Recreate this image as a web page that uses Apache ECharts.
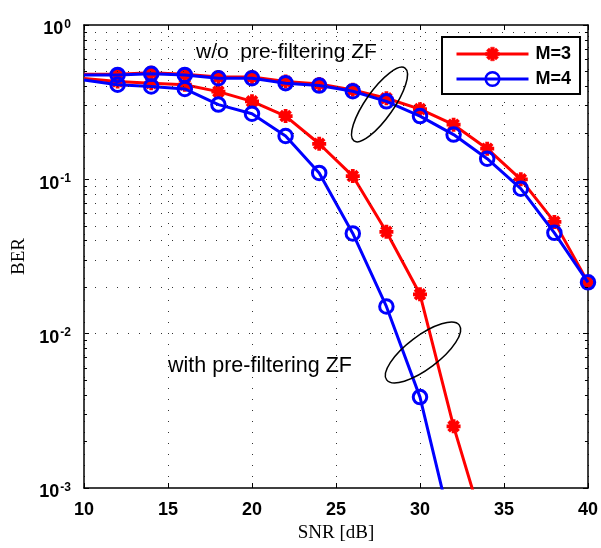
<!DOCTYPE html>
<html>
<head>
<meta charset="utf-8">
<script src="https://cdn.jsdelivr.net/npm/echarts@6/dist/echarts.min.js"></script>
<style>
  html, body { margin: 0; padding: 0; background: #ffffff; }
  #chart { width: 601px; height: 548px; }
</style>
</head>
<body>
<div id="chart"></div>
<script>
// SNR grid (dB)
const snr = [10, 12, 14, 16, 18, 20, 22, 24, 26, 28, 30, 32, 34, 36, 38, 40];

// BER without pre-filtering ZF
const berM3NoPre = [0.48, 0.48, 0.49, 0.48, 0.46, 0.46, 0.43, 0.415, 0.38, 0.335, 0.285, 0.226, 0.158, 0.100, 0.053, 0.0215];
const berM4NoPre = [0.475, 0.475, 0.483, 0.475, 0.452, 0.452, 0.42, 0.405, 0.372, 0.32, 0.257, 0.195, 0.136, 0.087, 0.045, 0.0215];

// BER with pre-filtering ZF (last point falls below the plotted range)
const berM3Pre = [0.45, 0.43, 0.42, 0.41, 0.37, 0.32, 0.257, 0.170, 0.105, 0.0457, 0.0180, 0.00251, 0.00047];
const berM4Pre = [0.44, 0.41, 0.40, 0.385, 0.305, 0.266, 0.191, 0.110, 0.0446, 0.0150, 0.00388, 0.00048];

// Axis ranges and grid
const xMin = 10, xMax = 40, xStep = 5;
const yMin = 0.001, yMax = 1;
const decades = [0.001, 0.01, 0.1];
const minorMultipliers = [2, 3, 4, 5, 6, 7, 8, 9];

const seriesNames = ['M=3', 'M=4'];
const annotationTop = 'w/o  pre-filtering ZF';
const annotationBottom = 'with pre-filtering ZF';

const RED = '#ff0000';
const BLUE = '#0000ff';
const DOT = [1, 10];
const GRID_COLOR = '#333';

// Asterisk marker: four bars of equal winding so overlaps stay filled
const STAR = 'path://M-10,-2.7L10,-2.7L10,2.7L-10,2.7Z' +
  'M-2.7,-10L2.7,-10L2.7,10L-2.7,10Z' +
  'M-5.16,-8.98L8.98,5.16L5.16,8.98L-8.98,-5.16Z' +
  'M-8.98,5.16L5.16,-8.98L8.98,-5.16L-5.16,8.98Z';

function toPairs(values) {
  // the first sample (SNR 10 dB) is drawn as a plain line start, no marker
  return values.map((v, i) => i === 0 ? { value: [snr[i], v], symbol: 'none' } : [snr[i], v]);
}

const minorValues = [];
decades.forEach(d => minorMultipliers.forEach(m => minorValues.push(+(d * m).toPrecision(3))));

const gridLines = minorValues.concat(decades.slice(1)).map(v => ({ yAxis: v }));
const tickLen = 0.18; // dB
const minorTicks = [];
minorValues.forEach(v => {
  minorTicks.push([{ coord: [xMin, v] }, { coord: [xMin + tickLen, v] }]);
  minorTicks.push([{ coord: [xMax - tickLen, v] }, { coord: [xMax, v] }]);
});

function supLabel(value) {
  const e = Math.round(Math.log10(value));
  return '{b|10}{s|' + e + '}';
}

const labelFont = 'Liberation Sans';

function redSeries(values, id) {
  return {
    id: id, name: seriesNames[0], type: 'line', data: toPairs(values),
    symbol: STAR, symbolSize: 14,
    lineStyle: { color: RED, width: 3 },
    itemStyle: { color: RED },
    clip: true, z: 3
  };
}
function blueSeries(values, id) {
  return {
    id: id, name: seriesNames[1], type: 'line', data: toPairs(values),
    symbol: 'circle', symbolSize: 13.5,
    lineStyle: { color: BLUE, width: 3 },
    itemStyle: { color: 'rgba(0,0,0,0)', borderColor: BLUE, borderWidth: 3 },
    clip: true, z: 4
  };
}

const chart = echarts.init(document.getElementById('chart'), null, { renderer: 'canvas' });

const option = {
  backgroundColor: '#ffffff',
  animation: false,
  grid: { left: 84, right: 11.5, top: 25, bottom: 57.3, containLabel: false },
  xAxis: [
    {
      type: 'value', min: xMin, max: xMax, interval: xStep, position: 'bottom',
      name: 'SNR [dB]', nameLocation: 'middle', nameGap: 36,
      nameTextStyle: { fontFamily: 'Liberation Serif', fontSize: 19, color: '#000' },
      axisLine: { show: true, onZero: false, lineStyle: { color: '#000', width: 1.5 } },
      axisTick: { show: true, inside: true, length: 5, lineStyle: { color: '#000', width: 1 } },
      axisLabel: { margin: 13, fontFamily: labelFont, fontWeight: 'bold', fontSize: 18, color: '#000' },
      splitLine: { show: true, lineStyle: { color: GRID_COLOR, width: 1, type: DOT } }
    },
    {
      type: 'value', min: xMin, max: xMax, interval: xStep, position: 'top',
      axisLine: { show: true, onZero: false, lineStyle: { color: '#000', width: 1.5 } },
      axisTick: { show: true, inside: true, length: 5, lineStyle: { color: '#000', width: 1 } },
      axisLabel: { show: false }, splitLine: { show: false }
    }
  ],
  yAxis: [
    {
      type: 'log', logBase: 10, min: yMin, max: yMax, position: 'left',
      name: 'BER', nameLocation: 'middle', nameGap: 55, nameRotate: 90,
      nameTextStyle: { fontFamily: 'Liberation Serif', fontSize: 19, color: '#000' },
      axisLine: { show: true, onZero: false, lineStyle: { color: '#000', width: 1.5 } },
      axisTick: { show: true, inside: true, length: 5, lineStyle: { color: '#000', width: 1 } },
      axisLabel: {
        margin: 13, formatter: supLabel, padding: [9, 0, 0, 0],
        rich: {
          b: { fontFamily: labelFont, fontWeight: 'bold', fontSize: 18, color: '#000' },
          s: { fontFamily: labelFont, fontWeight: 'bold', fontSize: 12, color: '#000', padding: [0, 0, 10, 1] }
        }
      },
      splitLine: { show: false }
    },
    {
      type: 'log', logBase: 10, min: yMin, max: yMax, position: 'right',
      axisLine: { show: true, onZero: false, lineStyle: { color: '#000', width: 1.5 } },
      axisTick: { show: true, inside: true, length: 5, lineStyle: { color: '#000', width: 1 } },
      axisLabel: { show: false }, splitLine: { show: false }
    }
  ],
  legend: {
    data: [
      { name: seriesNames[0], itemStyle: { color: RED, borderColor: RED, borderWidth: 0.5 } },
      { name: seriesNames[1], itemStyle: { color: 'rgba(0,0,0,0)', borderColor: BLUE, borderWidth: 2.5 } }
    ],
    orient: 'vertical', left: 442, top: 37,
    itemWidth: 72, itemHeight: 17, itemGap: 7,
    padding: [8, 9, 6, 13],
    backgroundColor: '#ffffff', borderColor: '#000', borderWidth: 2, borderRadius: 0,
    lineStyle: { width: 3 },
    textStyle: { fontFamily: labelFont, fontWeight: 'bold', fontSize: 18, color: '#000', padding: [0, 0, 0, 2] },
    selectedMode: false, z: 20
  },
  series: [
    {
      id: 'grid', type: 'line', data: [], silent: true,
      markLine: {
        silent: true, symbol: ['none', 'none'], label: { show: false },
        lineStyle: { color: GRID_COLOR, width: 1, type: DOT },
        emphasis: { disabled: true },
        data: gridLines
      },
      z: 1
    },
    {
      id: 'minorTicks', type: 'line', data: [], silent: true,
      markLine: {
        silent: true, symbol: ['none', 'none'], label: { show: false },
        lineStyle: { color: '#000', width: 1, type: 'solid' },
        emphasis: { disabled: true },
        data: minorTicks
      },
      z: 1
    },
    redSeries(berM3Pre, 'm3pre'),
    redSeries(berM3NoPre, 'm3nopre'),
    blueSeries(berM4Pre, 'm4pre'),
    blueSeries(berM4NoPre, 'm4nopre')
  ],
  graphic: [
    {
      type: 'text', x: 196, y: 52, z: 50,
      style: { text: annotationTop, fontFamily: labelFont, fontSize: 21, fill: '#000', align: 'left', verticalAlign: 'middle' }
    },
    {
      type: 'text', x: 168, y: 366, z: 50,
      style: { text: annotationBottom, fontFamily: labelFont, fontSize: 21.5, fill: '#000', align: 'left', verticalAlign: 'middle' }
    },
    {
      type: 'ellipse', x: 379.5, y: 104.5, rotation: 55 * Math.PI / 180, z: 50,
      shape: { cx: 0, cy: 0, rx: 44.5, ry: 14 },
      style: { fill: 'none', stroke: '#000', lineWidth: 1.5 }
    },
    {
      type: 'ellipse', x: 423, y: 352.5, rotation: 37 * Math.PI / 180, z: 50,
      shape: { cx: 0, cy: 0, rx: 45.5, ry: 16.5 },
      style: { fill: 'none', stroke: '#000', lineWidth: 1.5 }
    }
  ]
};

chart.setOption(option);
</script>
</body>
</html>
